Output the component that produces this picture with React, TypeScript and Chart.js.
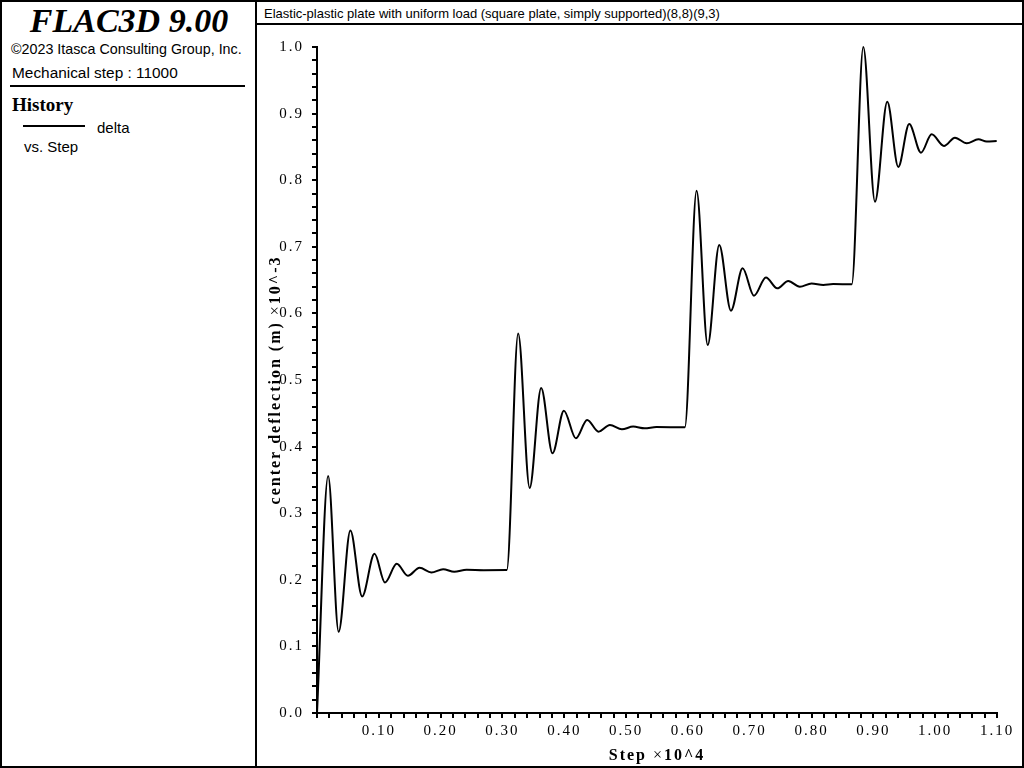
import React, { useEffect, useRef } from "react";
import { Chart, registerables } from "chart.js";

Chart.register(...registerables);

// Step (x 10^4) and center deflection (m, x 10^-3)
const steps = [
  0, 0.018, 0.035, 0.054, 0.073, 0.093, 0.11, 0.129, 0.147, 0.166, 0.185, 0.204, 0.222, 0.242, 0.27, 0.307,
  0.3254, 0.344, 0.3626, 0.381, 0.3994, 0.4188, 0.437, 0.4555, 0.4738, 0.4932, 0.5115, 0.53, 0.549, 0.595,
  0.614, 0.632, 0.6507, 0.6696, 0.6885, 0.7068, 0.7262, 0.7445, 0.7623, 0.781, 0.8, 0.819, 0.835, 0.865,
  0.8837, 0.9026, 0.9225, 0.9403, 0.958, 0.977, 0.9943, 1.0142, 1.032, 1.051, 1.0698, 1.0833, 1.0995,
];
const delta = [
  0, 0.356, 0.122, 0.274, 0.175, 0.239, 0.196, 0.224, 0.206, 0.218, 0.211, 0.216, 0.212, 0.215, 0.2145, 0.2147,
  0.57, 0.338, 0.488, 0.39, 0.454, 0.4125, 0.44, 0.4224, 0.4324, 0.426, 0.43, 0.4275, 0.4294, 0.429,
  0.784, 0.5526, 0.7027, 0.604, 0.6677, 0.6266, 0.654, 0.6376, 0.6486, 0.64, 0.645, 0.6426, 0.644, 0.6436,
  1.0, 0.7677, 0.9179, 0.82, 0.8844, 0.8413, 0.8689, 0.8514, 0.8638, 0.8554, 0.8614, 0.858, 0.8589,
];
const xTickLabels = ["", "0.10", "0.20", "0.30", "0.40", "0.50", "0.60", "0.70", "0.80", "0.90", "1.00", "1.10"];
const yTickLabels = ["0.0", "0.1", "0.2", "0.3", "0.4", "0.5", "0.6", "0.7", "0.8", "0.9", "1.0"];

const title = "Elastic-plastic plate with uniform load (square plate, simply supported)(8,8)(9,3)";
const xTitle = [
  { text: "Step ", bold: true },
  { text: "\u00d7", bold: false },
  { text: "10^4", bold: true },
];
const yTitle = [
  { text: "center deflection (m) ", bold: true },
  { text: "\u00d7", bold: false },
  { text: "10^-3", bold: true },
];

const SERIF = '"Liberation Serif", "Times New Roman", serif';
const SANS = '"Liberation Sans", Arial, sans-serif';

function majorLabel(v: number, labels: string[]) {
  const k = Math.round(v * 10);
  if (Math.abs(v * 10 - k) < 1e-6) return labels[k] ?? "";
  return "";
}

function drawSegments(ctx: any, segs: { text: string; bold: boolean }[], cx: number, y: number) {
  const fonts = segs.map((s) => `${s.bold ? "bold " : ""}16px ${SERIF}`);
  let total = 0;
  const widths = segs.map((s, i) => {
    ctx.font = fonts[i];
    const w = ctx.measureText(s.text).width;
    total += w;
    return w;
  });
  let x = cx - total / 2;
  ctx.textAlign = "left";
  ctx.textBaseline = "alphabetic";
  ctx.fillStyle = "#000";
  segs.forEach((s, i) => {
    ctx.font = fonts[i];
    ctx.fillText(s.text, x, y);
    x += widths[i];
  });
}

const spacingPlugin = {
  id: "flacText",
  beforeDraw(chart: any) {
    chart.ctx.letterSpacing = "2px";
  },
  afterDraw(chart: any) {
    const ctx = chart.ctx;
    const a = chart.chartArea;
    ctx.save();
    ctx.letterSpacing = "2px";
    drawSegments(ctx, xTitle, (a.left + a.right) / 2, 733.5);
    ctx.translate(22, (a.top + a.bottom) / 2);
    ctx.rotate(-Math.PI / 2);
    drawSegments(ctx, yTitle, 0, 0);
    ctx.restore();
  },
};

export default function App() {
  const ref = useRef<HTMLCanvasElement>(null);

  useEffect(() => {
    const points = steps.map((s, i) => ({ x: s, y: delta[i] }));
    const axisCommon = {
      type: "linear" as const,
      grid: {
        display: true,
        drawOnChartArea: false,
        drawTicks: true,
        tickLength: 5,
        lineWidth: 2,
        color: "#000",
      },
      border: { display: true, width: 2, color: "#000" },
    };
    const chart = new Chart(ref.current!, {
      type: "line",
      data: {
        datasets: [
          {
            label: "delta",
            data: points,
            borderColor: "#000",
            borderWidth: 2,
            pointRadius: 0,
            fill: false,
            cubicInterpolationMode: "monotone",
            clip: false as any,
          },
        ],
      },
      options: {
        animation: false,
        responsive: false,
        devicePixelRatio: 1,
        layout: { padding: { left: 0, right: 24, top: 21, bottom: 0 } },
        plugins: { legend: { display: false }, tooltip: { enabled: false } },
        scales: {
          x: {
            ...axisCommon,
            position: "bottom",
            min: 0,
            max: 1.1,
            ticks: {
              stepSize: 0.02,
              autoSkip: false,
              maxRotation: 0,
              minRotation: 0,
              padding: 4,
              color: "#000",
              font: { family: SERIF, size: 15 },
              callback: (v: any) => majorLabel(Number(v), xTickLabels),
            },
            afterFit: (s: any) => {
              s.height = 53;
              s.paddingLeft = 0;
              s.paddingRight = 0;
            },
          },
          y: {
            ...axisCommon,
            position: "left",
            min: 0,
            max: 1.0,
            ticks: {
              stepSize: 0.02,
              autoSkip: false,
              padding: 8,
              color: "#000",
              font: { family: SERIF, size: 15 },
              callback: (v: any) => majorLabel(Number(v), yTickLabels),
            },
            afterFit: (s: any) => {
              s.width = 59;
              s.paddingTop = 0;
              s.paddingBottom = 0;
            },
          },
        },
      },
      plugins: [spacingPlugin],
    } as any);
    return () => chart.destroy();
  }, []);

  const abs = (extra: any) => ({ position: "absolute" as const, whiteSpace: "nowrap" as const, lineHeight: 1, ...extra });

  return (
    <div style={{ position: "absolute", left: 0, top: 0, width: 1024, height: 768, background: "#fff", overflow: "hidden" }}>
      <div style={abs({ left: 0, top: 0, width: 1024, height: 768, border: "2px solid #000", boxSizing: "border-box" })} />
      <div style={abs({ left: 255, top: 0, width: 2, height: 768, background: "#000" })} />
      <div style={abs({ left: 256, top: 23, width: 768, height: 2, background: "#000" })} />
      <div style={abs({ left: 264, top: 6.6, fontFamily: SANS, fontSize: 13, color: "#000" })}>{title}</div>

      <div style={abs({ left: 0, top: 4, width: 258, textAlign: "center", fontFamily: SERIF, fontSize: 34, fontWeight: "bold", fontStyle: "italic" })}>
        FLAC3D 9.00
      </div>
      <div style={abs({ left: 11, top: 42, fontFamily: SANS, fontSize: 14.3 })}>©2023 Itasca Consulting Group, Inc.</div>
      <div style={abs({ left: 12, top: 65, fontFamily: SANS, fontSize: 15.4 })}>Mechanical step : 11000</div>
      <div style={abs({ left: 10, top: 85, width: 235, height: 2, background: "#000" })} />
      <div style={abs({ left: 12, top: 94.5, fontFamily: SERIF, fontSize: 19, fontWeight: "bold" })}>History</div>
      <div style={abs({ left: 23, top: 125, width: 62, height: 2, background: "#000" })} />
      <div style={abs({ left: 97, top: 119.7, fontFamily: SANS, fontSize: 15 })}>delta</div>
      <div style={abs({ left: 24, top: 138.6, fontFamily: SANS, fontSize: 15 })}>vs. Step</div>

      <canvas
        ref={ref}
        width={763}
        height={740}
        style={{ position: "absolute", left: 258, top: 26, width: 763, height: 740 }}
      />
    </div>
  );
}
